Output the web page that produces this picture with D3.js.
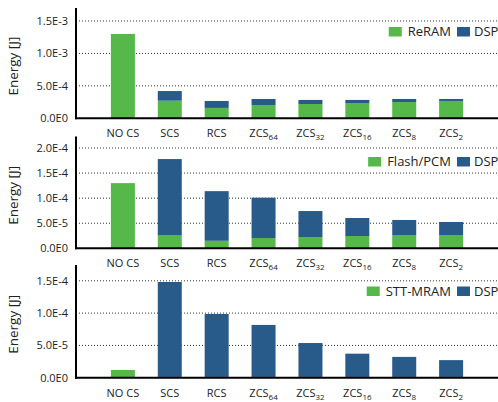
<!DOCTYPE html>
<html><head><meta charset="utf-8">
<script src="https://cdn.jsdelivr.net/npm/d3@7"></script>
<style>body{margin:0;background:#fff}text{font-family:"Open Sans",sans-serif;fill:#222}</style>
</head><body><svg id="c" width="498" height="402"></svg>
<script>
const categories = ["NO CS","SCS","RCS","ZCS|64","ZCS|32","ZCS|16","ZCS|8","ZCS|2"];
const memNames = ["ReRAM","Flash/PCM","STT-MRAM"];
// memory energy per panel
const reramMem = [1.30e-3, 2.72e-4, 1.60e-4, 2.05e-4, 2.20e-4, 2.36e-4, 2.50e-4, 2.67e-4];
const reramDsp = [0, 1.48e-4, 1.07e-4, 0.93e-4, 0.63e-4, 0.47e-4, 0.48e-4, 0.31e-4];
const flashMem = [1.30e-4, 2.65e-5, 1.50e-5, 2.05e-5, 2.25e-5, 2.45e-5, 2.65e-5, 2.65e-5];
const flashDsp = [0, 1.515e-4, 0.99e-4, 0.805e-4, 0.518e-4, 0.359e-4, 0.30e-4, 0.26e-4];
const sttMem = [1.19e-5, 1.2e-6, 1.2e-6, 1.2e-6, 1.2e-6, 1.2e-6, 1.2e-6, 1.2e-6];
const sttDsp = [0, 1.47e-4, 0.975e-4, 0.805e-4, 0.525e-4, 0.36e-4, 0.31e-4, 0.26e-4];
const ticks1 = [0, 5e-4, 1e-3, 1.5e-3];
const ticks2 = [0, 5e-5, 1e-4, 1.5e-4, 2e-4];
const ticks3 = [0, 5e-5, 1e-4, 1.5e-4];

const GREEN = "#55b848", BLUE = "#285a8a";
const svg = d3.select("#c");
const left = 76, right = 498;
const x = d3.scalePoint().domain(categories).range([left, right]).padding(1);
const bw = 24;

function fmt(v){
  if (v === 0) return "0.0E0";
  const e = Math.floor(Math.log10(v) + 1e-9);
  return (v / Math.pow(10, e)).toFixed(1) + "E" + e;
}

const panels = [
  {mem: reramMem, dsp: reramDsp, name: memNames[0], ticks: ticks1, max: 1.7e-3, top: 8, bottom: 118.3, legY: 31.5},
  {mem: flashMem, dsp: flashDsp, name: memNames[1], ticks: ticks2, max: 2.23e-4, top: 136.5, bottom: 248.3, legY: 161.5},
  {mem: sttMem, dsp: sttDsp, name: memNames[2], ticks: ticks3, max: 1.745e-4, top: 265, bottom: 377.7, legY: 291}
];

panels.forEach(p => {
  const g = svg.append("g");
  const y = d3.scaleLinear().domain([0, p.max]).range([p.bottom, p.top]);
  g.selectAll("line.grid").data(p.ticks.filter(t => t > 0)).join("line")
    .attr("x1", left).attr("x2", right)
    .attr("y1", d => y(d)).attr("y2", d => y(d))
    .attr("stroke", "#333").attr("stroke-width", 1).attr("stroke-dasharray", "1,2");
  const ax = g.append("g").attr("transform", `translate(${left},0)`)
    .call(d3.axisLeft(y).tickValues(p.ticks).tickFormat(fmt).tickSize(0).tickPadding(8));
  ax.select(".domain").remove();
  ax.selectAll("text").attr("font-size", 11).attr("fill", "#222").style("font-family", '"Open Sans",sans-serif');
  const data = categories.map((c, i) => ({c, m: p.mem[i], d: p.dsp[i]}));
  g.selectAll("rect.m").data(data).join("rect")
    .attr("x", d => x(d.c) - bw/2).attr("width", bw)
    .attr("y", d => y(d.m)).attr("height", d => y(0) - y(d.m)).attr("fill", GREEN);
  g.selectAll("rect.d").data(data.filter(d => d.d > 0)).join("rect")
    .attr("x", d => x(d.c) - bw/2).attr("width", bw)
    .attr("y", d => y(d.m + d.d)).attr("height", d => y(d.m) - y(d.m + d.d)).attr("fill", BLUE);
  g.append("line").attr("x1", left).attr("x2", left).attr("y1", p.top).attr("y2", p.bottom + 1)
    .attr("stroke", "#000").attr("stroke-width", 2);
  g.append("line").attr("x1", left - 1).attr("x2", right).attr("y1", p.bottom).attr("y2", p.bottom)
    .attr("stroke", "#000").attr("stroke-width", 2);
  const lab = g.selectAll("text.xl").data(categories).join("text")
    .attr("x", d => x(d)).attr("y", p.bottom + 19).attr("text-anchor", "middle").attr("font-size", 11);
  lab.each(function(d){
    const parts = d.split("|");
    const t = d3.select(this);
    t.append("tspan").text(parts[0]);
    if (parts[1]) t.append("tspan").attr("font-size", 8).attr("dy", 3).text(parts[1]);
  });
  g.append("text").attr("transform", `translate(18,${(p.top + p.bottom)/2 + 3}) rotate(-90)`)
    .attr("text-anchor", "middle").attr("font-size", 13.5).text("Energy [J]");
  const dspX = 457;
  g.append("rect").attr("x", dspX).attr("y", p.legY - 4.5).attr("width", 13).attr("height", 9.5).attr("fill", BLUE);
  g.append("text").attr("x", dspX + 17).attr("y", p.legY + 4.8).attr("font-size", 13).text("DSP");
  const mt = g.append("text").attr("y", p.legY + 4.8).attr("font-size", 13).text(p.name);
  const w = mt.node().getComputedTextLength();
  const tx = dspX - 6 - w;
  mt.attr("x", tx);
  g.append("rect").attr("x", tx - 19).attr("y", p.legY - 4.5).attr("width", 13).attr("height", 9.5).attr("fill", GREEN);
});
</script></body></html>
